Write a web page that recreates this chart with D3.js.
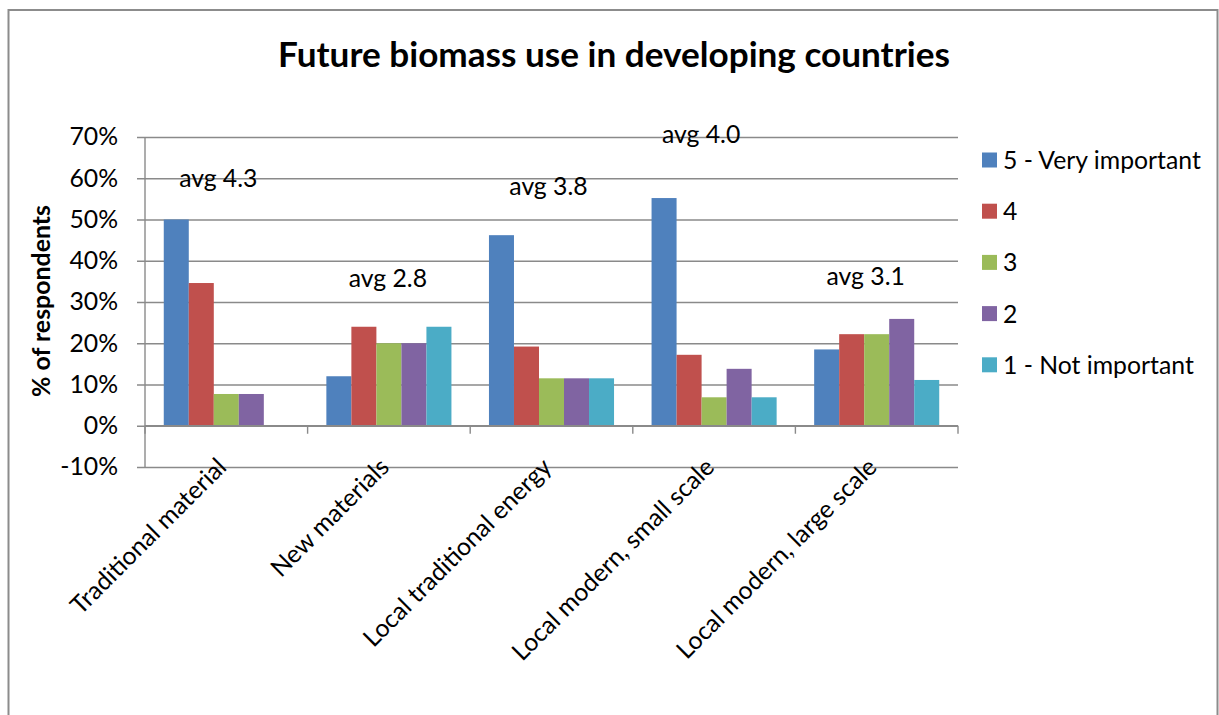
<!DOCTYPE html>
<html>
<head>
<meta charset="utf-8">
<script src="https://cdn.jsdelivr.net/npm/d3@7"></script>
<style>
  html, body { margin: 0; padding: 0; background: #fff; }
  svg { display: block; }
  text { font-family: Lato, "Open Sans", sans-serif; fill: #000; }
</style>
</head>
<body>
<svg id="chart" width="1219" height="715"></svg>
<script>
// ---- data ----
const categories = ["Traditional material", "New materials", "Local traditional energy",
                    "Local modern, small scale", "Local modern, large scale"];
const seriesNames = ["5 - Very important", "4", "3", "2", "1 - Not important"];
const s5 = [50.0, 12.0, 46.2, 55.2, 18.5];
const s4 = [34.6, 24.0, 19.2, 17.2, 22.2];
const s3 = [7.7, 20.0, 11.5, 6.9, 22.2];
const s2 = [7.7, 20.0, 11.5, 13.8, 25.9];
const s1 = [0.0, 24.0, 11.5, 6.9, 11.1];
const avgLabels = ["avg 4.3", "avg 2.8", "avg 3.8", "avg 4.0", "avg 3.1"];
const yTicks = [-10, 0, 10, 20, 30, 40, 50, 60, 70];
const titleText = "Future biomass use in developing countries";
const yTitle = "% of respondents";

// ---- styles / layout ----
const colors = ["#4F81BD", "#C0504D", "#9BBB59", "#8064A2", "#4BACC6"];
const gridColor = "#8a8a8a";
const plot = { left: 145, right: 958, top: 137, bottom: 467 };
// hand-placed text boxes for the averages: [dx from category centre, baseline y]
const avgLayout = [[-8, 187], [-1, 287], [-3, 195], [-13, 143], [-11, 285]];

const svg = d3.select("#chart");
const series = [s5, s4, s3, s2, s1];

// frame
svg.append("rect").attr("x", 8.5).attr("y", 10).attr("width", 1209).attr("height", 720)
  .attr("fill", "none").attr("stroke", "#8c8c8c").attr("stroke-width", 2);

const x = d3.scaleBand().domain(categories).range([plot.left, plot.right]).paddingInner(0).paddingOuter(0);
const xs = d3.scaleBand().domain(d3.range(series.length)).range([0, x.bandwidth()]).paddingInner(0).paddingOuter(0.75);
const y = d3.scaleLinear().domain([-10, 70]).range([plot.bottom, plot.top]);

// gridlines + y axis
const yAxis = d3.axisLeft(y).tickValues(yTicks).tickSize(plot.right - plot.left + 8).tickFormat(d => d + "%").tickPadding(19);
const gy = svg.append("g").attr("transform", `translate(${plot.right},0)`).call(yAxis);
gy.select(".domain").remove();
gy.selectAll(".tick line").attr("stroke", gridColor).attr("stroke-width", 1.4);
gy.selectAll(".tick text").attr("font-family", "Lato").attr("fill", "#000");

// y axis line
svg.append("line").attr("x1", plot.left).attr("x2", plot.left).attr("y1", plot.top).attr("y2", plot.bottom)
  .attr("stroke", gridColor).attr("stroke-width", 1.4);

// bars
const gBars = svg.append("g");
categories.forEach((c, ci) => {
  series.forEach((s, si) => {
    gBars.append("rect")
      .attr("x", x(c) + xs(si))
      .attr("width", xs.bandwidth())
      .attr("y", y(Math.max(0, s[ci])))
      .attr("height", Math.abs(y(s[ci]) - y(0)))
      .attr("fill", colors[si]);
  });
});

// category axis at 0
const xAxis = d3.axisBottom(x).tickSize(0).tickFormat("");
const gx = svg.append("g").attr("transform", `translate(0,${y(0)})`).call(xAxis);
gx.select(".domain").attr("stroke", gridColor).attr("stroke-width", 1.4).attr("d", `M${plot.left},0H${plot.right}`);
const boundaries = categories.map(c => x(c)).concat([x(categories[categories.length - 1]) + x.bandwidth()]);
gx.selectAll("line.bnd").data(boundaries).enter().append("line").attr("class", "bnd")
  .attr("x1", d => d).attr("x2", d => d).attr("y1", 0).attr("y2", 8)
  .attr("stroke", gridColor).attr("stroke-width", 1.4);

// category labels
const catLabels = svg.append("g").selectAll("text").data(categories).enter().append("text")
  .attr("transform", d => `translate(${x(d) + x.bandwidth() / 2 - 11},456) rotate(-45)`)
  .attr("text-anchor", "end").attr("dy", "0.72em")
  .text(d => d);

// avg labels
const avgText = svg.append("g").selectAll("text").data(avgLabels).enter().append("text")
  .attr("x", (d, i) => x(categories[i]) + x.bandwidth() / 2 + avgLayout[i][0])
  .attr("y", (d, i) => avgLayout[i][1])
  .attr("text-anchor", "middle")
  .text(d => d);

// legend
const legend = svg.append("g").attr("transform", "translate(982,160)");
const li = legend.selectAll("g").data(seriesNames).enter().append("g")
  .attr("transform", (d, i) => `translate(0,${i * 51.2})`);
li.append("rect").attr("x", 0).attr("y", -7.5).attr("width", 15).attr("height", 15).attr("fill", (d, i) => colors[i]);
const legText = li.append("text").attr("x", 21).attr("dy", "0.36em").text(d => d);

// title
const title = svg.append("text").attr("x", 614).attr("y", 67).attr("text-anchor", "middle")
  .attr("font-weight", "bold").text(titleText);

// y title
const yt = svg.append("text").attr("transform", "translate(50,301) rotate(-90)")
  .attr("text-anchor", "middle").attr("font-weight", "bold").text(yTitle);

// ---- fit font sizes to the reference widths ----
function fitSize(node, target) {
  node.setAttribute("font-size", 20);
  const w = node.getComputedTextLength();
  return 20 * target / w;
}
const bodySize = fitSize(legText.nodes()[0], 198);
legText.attr("font-size", bodySize);
avgText.attr("font-size", bodySize);
catLabels.attr("font-size", bodySize);
gy.selectAll(".tick text").attr("font-size", bodySize);
title.attr("font-size", fitSize(title.node(), 672));
yt.attr("font-size", fitSize(yt.node(), 192));
</script>
</body>
</html>
